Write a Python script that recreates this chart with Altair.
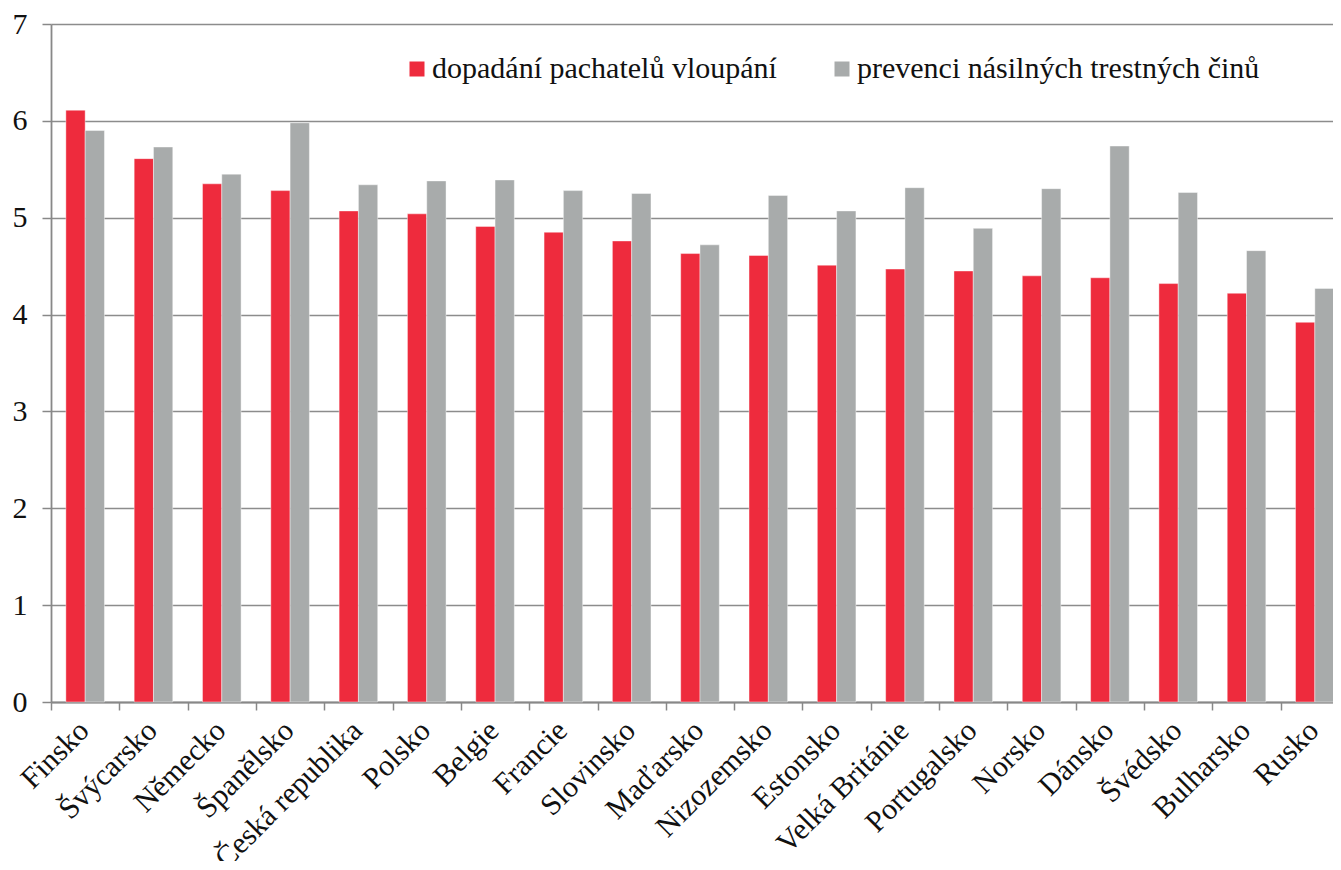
import altair as alt
import pandas as pd

countries = ["Finsko", "Švýcarsko", "Německo", "Španělsko", "Česká republika", "Polsko",
             "Belgie", "Francie", "Slovinsko", "Maďarsko", "Nizozemsko", "Estonsko",
             "Velká Británie", "Portugalsko", "Norsko", "Dánsko", "Švédsko", "Bulharsko", "Rusko"]
dopadani = [6.11, 5.61, 5.35, 5.28, 5.07, 5.04, 4.91, 4.85, 4.76, 4.63, 4.61, 4.51,
            4.47, 4.45, 4.40, 4.38, 4.32, 4.22, 3.92]
prevence = [5.90, 5.73, 5.45, 5.98, 5.34, 5.38, 5.39, 5.28, 5.25, 4.72, 5.23, 5.07,
            5.31, 4.89, 5.30, 5.74, 5.26, 4.66, 4.27]
series_names = ["dopadání pachatelů vloupání", "prevenci násilných trestných činů"]
colors = ["#EE2B3D", "#A8ABAB"]
y_ticks = [0, 1, 2, 3, 4, 5, 6, 7]

rows = []
for c, a, b in zip(countries, dopadani, prevence):
    rows.append({"zeme": c, "rada": series_names[0], "hodnota": a})
    rows.append({"zeme": c, "rada": series_names[1], "hodnota": b})
df = pd.DataFrame(rows)

FONT = "Liberation Serif"

chart = alt.Chart(df).mark_bar(stroke="#ffffff", strokeWidth=0.6, strokeOpacity=0.7).encode(
    x=alt.X("zeme:N", sort=countries,
            scale=alt.Scale(paddingInner=0, paddingOuter=0, range=[0, 1298]),
            axis=alt.Axis(title=None, labelAngle=315, tickBand="extent", grid=False,
                          labelFont=FONT, labelFontSize=30, labelColor="#111111",
                          labelLimit=0, labelPadding=5, labelOffset=-12, tickSize=8,
                          tickColor="#888888", tickWidth=1.5, domainColor="#888888",
                          domainWidth=1.8)),
    xOffset=alt.XOffset("rada:N", sort=series_names,
                        scale=alt.Scale(paddingInner=0, paddingOuter=0.77)),
    y=alt.Y("hodnota:Q", scale=alt.Scale(domain=[0, 7], nice=False),
            axis=alt.Axis(title=None, values=y_ticks, grid=True, gridColor="#8c8c8c",
                          gridWidth=1.3, labelFont=FONT, labelFontSize=30,
                          labelColor="#111111", labelPadding=15, tickSize=9,
                          tickColor="#888888", tickWidth=1.5, domainColor="#888888",
                          domainWidth=1.8)),
    color=alt.Color("rada:N", sort=series_names,
                    scale=alt.Scale(domain=series_names, range=colors),
                    legend=alt.Legend(title=None, orient="none", legendX=351, legendY=30,
                                      direction="horizontal", columnPadding=50, padding=0,
                                      symbolType="square", symbolSize=225,
                                      symbolStrokeWidth=0, labelFont=FONT,
                                      labelFontSize=30, labelColor="#111111",
                                      labelLimit=0, labelOffset=0)),
).properties(
    width=1282, height=678,
    autosize=alt.AutoSizeParams(type="none"),
    padding={"left": 43, "top": 16, "right": 0, "bottom": 159},
).configure_view(stroke=None)

chart.save("out.html", embed_options={"renderer": "svg", "actions": False})
